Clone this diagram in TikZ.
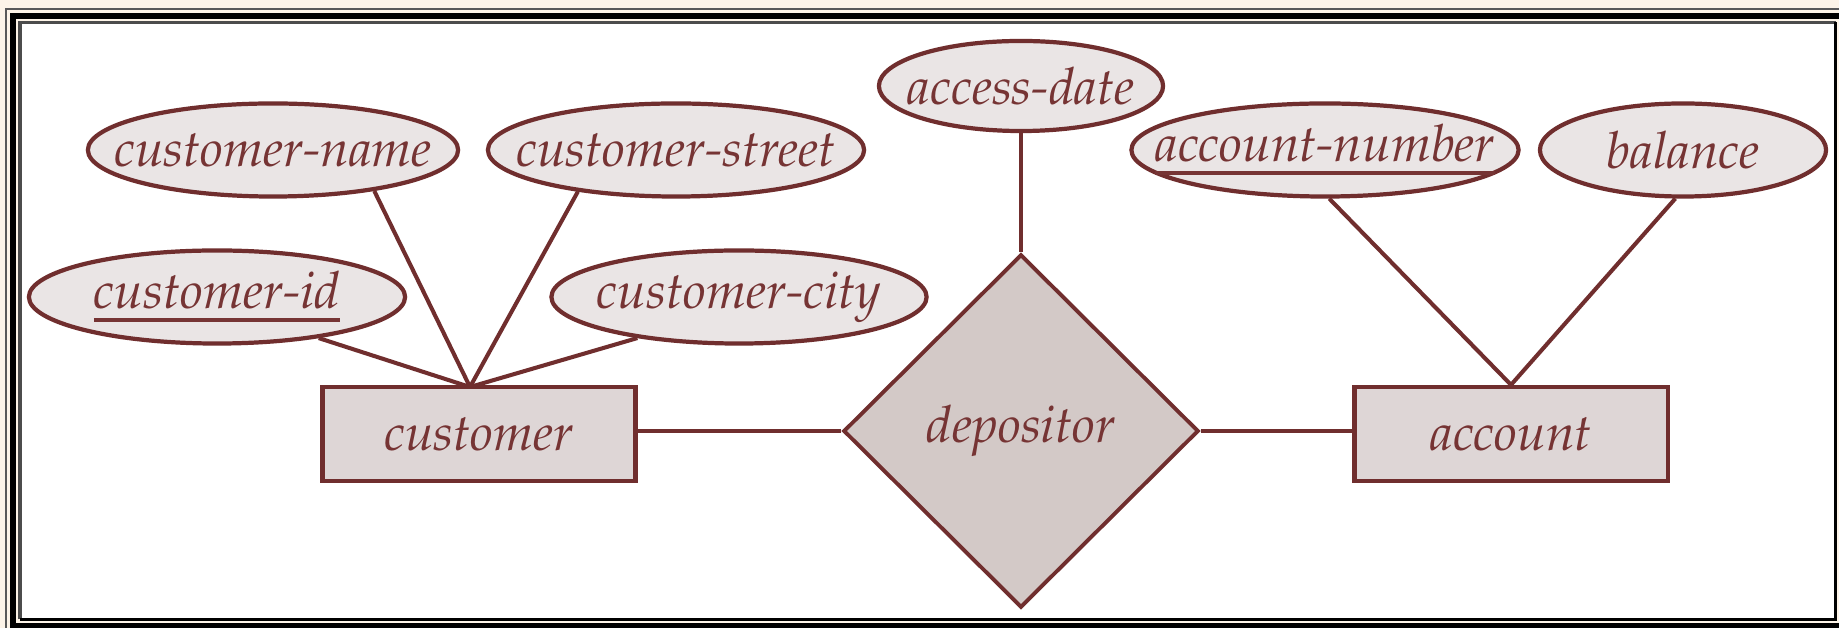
\documentclass[tikz,border=0pt]{standalone}
\usepackage[T1]{fontenc}
\usepackage{mathpazo}
\usetikzlibrary{shapes.geometric}

\definecolor{erline}{RGB}{112,46,46}
\definecolor{ertext}{RGB}{118,52,52}
\definecolor{attrfill}{RGB}{234,229,229}
\definecolor{entfill}{RGB}{222,214,214}
\definecolor{relfill}{RGB}{211,201,199}
\definecolor{framebg}{RGB}{253,244,232}

\newcommand{\keytext}[1]{\setbox0\hbox{#1}\rlap{\rule[-3.8pt]{\wd0}{1.1pt}}\box0}

\tikzset{
  erfont/.style={text=ertext, font=\fontsize{14.6}{17}\selectfont\itshape},
  attr/.style={ellipse, draw=erline, fill=attrfill, line width=1.2pt, inner sep=0pt,
    minimum height=0.93cm, erfont,
    execute at begin node={\hbox to 0pt\bgroup\hss}, execute at end node={\hss\egroup}},
  entity/.style={rectangle, draw=erline, fill=entfill, line width=1.2pt, inner sep=0pt,
    minimum width=3.13cm, minimum height=0.94cm, erfont},
  rel/.style={diamond, draw=erline, fill=relfill, line width=1.1pt, inner sep=0pt,
    minimum width=3.55cm, minimum height=3.53cm, erfont},
  link/.style={draw=erline, line width=1.15pt}
}

\begin{document}
\begin{tikzpicture}[x=0.01cm, y=-0.01cm]
  			% Frame
  			\useasboundingbox (0,0) rectangle (1839,628);
  			\clip (0,0) rectangle (1839,628);
  			\fill[framebg] (0,0) rectangle (1839,628);
  			\draw[black!65, line width=0.6pt] (6,9) rectangle (1900,700);
  			\draw[black, line width=1.7pt] (13,16) rectangle (1900,626);
  			\fill[white] (20,22.5) rectangle (1835.5,619.5);
  			\draw[black!70, line width=1pt] (20,619.5) -- (20,22.5) -- (1835.5,22.5);
  			\draw[black, line width=1pt] (20,619.5) -- (1835.5,619.5) -- (1835.5,22.5);

  			% Define nodes
  			\node[entity]                                  (customer) at (479,434) {customer};
  			\node[entity]                                  (account)  at (1511,434) {account};
  			\node[rel]                                     (dep)      at (1021,431) {depositor};
  			\node[attr, minimum width=3.70cm]              (cname)    at (273,150) {customer-name};
  			\node[attr, minimum width=3.76cm]              (cstreet)  at (676,150) {customer-street};
  			\node[attr, minimum width=3.76cm]              (cid)      at (217,297) {\keytext{customer-id}};
  			\node[attr, minimum width=3.75cm]              (ccity)    at (739,297) {customer-city};
  			\node[attr, minimum width=2.84cm, minimum height=0.90cm] (date) at (1021,86) {access-date};
  			\node[attr, minimum width=3.87cm]              (anum)     at (1325,150) {\keytext{account-number}};
  			\node[attr, minimum width=2.86cm]              (bal)      at (1683,150) {balance};
  			\coordinate                                    (cjoin)    at (470,387);

  			% Connect the nodes
  			\draw[link] (cname.-22)  -- (cjoin);
  			\draw[link] (cstreet.203) -- (cjoin);
  			\draw[link] (cid.-22)    -- (cjoin);
  			\draw[link] (ccity.202)  -- (cjoin);
  			\draw[link] (anum.-85)   -- (account.north);
  			\draw[link] (bal.-99)    -- (account.north);
  			\draw[link] (date.south) -- (dep.north);
  			\draw[link] (dep.west)   -- (dep.west -| customer.east);
  			\draw[link] (dep.east)   -- (dep.east -| account.west);
\end{tikzpicture}
\end{document}
